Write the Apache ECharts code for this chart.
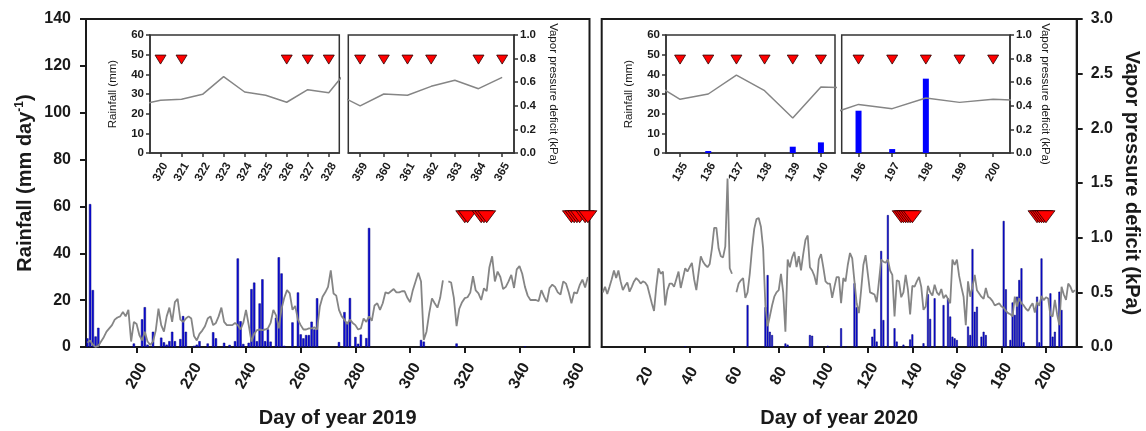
<!DOCTYPE html>
<html><head><meta charset="utf-8">
<script src="https://cdn.jsdelivr.net/npm/echarts@6/dist/echarts.min.js"></script>
<style>html,body{margin:0;padding:0;background:#fff}#c{width:1146px;height:431px}</style>
</head><body><div id="c"></div><script>
// ---------- DATA ----------
const vpd2019Start = 182;
const vpd2019 = [0.04,0.06,0.02,0.0,0.01,0.05,0.09,0.14,0.17,0.2,
 0.25,0.27,0.28,0.32,0.28,0.34,0.05,0.23,0.21,0.11,
 0.06,0.14,0.05,0.02,0.05,0.15,0.35,0.2,0.14,0.28,
 0.36,0.23,0.41,0.44,0.25,0.23,0.26,0.28,0.26,0.1,
 0.06,0.12,0.15,0.19,0.26,0.28,0.2,0.22,0.28,0.36,
 0.23,0.2,0.2,0.2,0.22,0.2,0.16,0.22,0.34,0.2,
 0.05,0.12,0.155,0.16,0.155,0.16,0.17,0.22,0.34,0.29,
 0.17,0.35,0.45,0.52,0.49,0.34,0.375,0.25,0.2,0.16,
 0.16,0.17,0.17,0.18,0.16,0.37,0.46,0.5,0.55,0.7,
 0.49,0.47,0.34,0.28,0.25,0.21,0.25,0.22,0.2,0.16,
 0.17,0.26,0.23,0.28,0.24,0.38,0.4,0.34,0.4,0.5,
 0.49,0.51,0.53,0.5,0.5,0.51,0.51,0.45,0.41,0.52,
 0.6,0.68,0.6,0.065,0.14,0.31,0.445,0.4,0.36,0.45,
 0.61,null,0.6,0.59,0.45,0.19,0.35,0.41,0.447,0.455,
 0.497,0.647,0.517,0.49,0.43,0.537,0.51,0.73,0.83,0.6,
 0.69,0.64,0.53,0.55,0.6,0.66,0.54,0.71,0.74,0.67,
 0.55,0.47,0.43,0.43,0.43,0.42,0.52,0.46,0.41,0.54,
 0.57,0.55,0.5,0.48,0.6,0.58,0.5,0.40,0.50,0.49,
 0.565,0.616,0.545,0.641];

const vpd2020Start = 1;
const vpd2020 = [0.5,0.55,0.485,0.55,0.62,0.7,0.63,0.7,0.6,0.52,
 0.56,0.59,0.506,0.55,0.6,0.63,0.61,0.58,0.6,0.59,
 0.56,0.48,0.4,0.33,0.55,0.72,0.67,0.69,0.38,0.52,
 0.58,0.58,0.55,0.62,0.69,0.54,0.63,0.72,0.69,0.73,
 0.77,0.62,0.52,0.68,0.83,0.78,0.75,0.73,0.76,0.9,
 1.09,1.09,0.9,0.83,0.82,0.92,1.54,0.72,0.67,null,
 0.5,0.58,0.61,0.63,0.45,0.5,0.67,0.9,1.08,1.17,
 1.18,1.1,0.9,0.38,0.19,0.28,0.38,0.46,0.5,0.52,
 0.67,0.5,0.14,0.8,0.73,0.82,0.87,0.73,0.83,0.7,
 0.85,0.98,1.02,0.73,0.7,0.65,0.57,0.8,0.85,0.73,
 0.6,0.58,0.58,0.45,0.55,0.64,0.64,0.4,0.63,0.6,
 0.75,0.86,0.81,0.6,0.4,0.31,0.52,0.75,0.84,0.67,
 0.5,0.49,0.48,0.41,0.6,0.8,0.78,0.77,0.8,0.7,
 0.66,0.28,0.61,0.6,0.455,0.5,0.66,0.528,0.297,0.559,
 0.553,0.6,0.64,0.55,0.34,0.37,0.56,0.5,0.47,0.57,
 0.5,0.475,0.53,0.445,0.475,0.44,0.4,0.8,0.75,0.8,
 0.65,0.55,0.46,0.2,0.6,0.46,0.55,0.66,0.52,0.49,
 0.46,0.44,0.54,0.46,0.445,0.42,0.38,0.39,0.4,0.37,
 0.36,0.33,0.31,0.3,0.28,0.46,0.37,0.445,0.4,0.38,
 0.35,0.33,0.37,0.4,0.316,0.412,0.376,0.466,0.429,0.455,
 0.443,0.29,0.28,0.43,0.3,0.2,0.55,0.48,0.43,0.58,
 0.55,0.5,0.52];

// rainfall [day, mm] (days not listed = 0)
const rain2019 = [[182,3.7],[183,61],[184,24.3],[185,4.5],[186,8.2],[199,1.5],[202,11.8],[203,17],[204,1],
 [206,6.5],[209,4],[210,2],[211,1],[212,2.5],[213,6.5],[214,2.5],[216,3.4],[217,13.2],[218,6.5],
 [221,0.5],[222,1],[223,2.5],[226,1.5],[228,6.3],[229,3.7],[232,1.8],[234,0.9],[236,2.5],[237,37.8],
 [238,11],[239,1.3],[241,1.8],[242,24.7],[243,27.5],[244,2.5],[245,18.6],[246,28.9],[247,2.5],[248,7.5],
 [249,2.3],[251,12.5],[252,38.3],[253,31.4],[254,0.5],[257,10.5],[259,23.3],[260,5.4],[261,3.7],[262,5.1],
 [263,5.1],[264,10.8],[265,7.5],[266,20.8],[274,2.1],[276,14.9],[277,10.7],[278,20.9],[280,4.3],
 [281,1.4],[282,5.3],[284,3.8],[285,50.8],[304,3],[305,2.3],[317,1.5],[342,0.3]];
const rain2020 = [[38,0.3],[66,17.9],[74,17],[75,30.7],[76,6.5],[77,5.1],[83,1.5],[84,1],[94,5.1],[95,4.8],
 [102,0.5],[108,8],[110,0.3],[114,27.2],[115,17],[122,4.4],[123,7.7],[124,2.3],[126,41],[127,11.5],
 [129,56.3],[132,8],[133,2.3],[136,1],[139,3.2],[140,5.4],[145,1.6],[147,22.5],[148,12],[150,20.8],
 [154,17.9],[156,20.8],[157,13],[158,4.4],[159,3.7],[160,3],[165,8.7],[166,5.1],[167,41.8],[168,15],
 [169,17.2],[171,4.4],[172,6.5],[173,5.1],[181,53.8],[182,24.6],[184,3],[185,19],[186,13.7],[187,21.5],
 [188,28.6],[189,33.6],[190,2],[196,21.5],[197,2],[198,37.8],[202,22.9],[203,4.4],[204,6.5],[206,23.6],[207,15.8]];

// sampling days (red triangles)
const sample2019 = [320,321,326,327,328,359,360,361,362,364,365];
const sample2020 = [135,136,137,138,139,140,196,197,198,199,200];

// tick labels
const ticks2019 = [200,220,240,260,280,300,320,340,360];
const ticks2020 = [20,40,60,80,100,120,140,160,180,200];
const ticksIn1 = [320,321,322,323,324,325,326,327,328];
const ticksIn2 = [359,360,361,362,363,364,365];
const ticksIn3 = [135,136,137,138,139,140];
const ticksIn4 = [196,197,198,199,200];

// ---------- CHART ----------
const AX = '#1a1a1a', FR = '#333';
const FONT = '"Liberation Sans", Arial, sans-serif';
const pairs = (s, a) => a.map((v, i) => [s + i, v]);
const line2019 = pairs(vpd2019Start, vpd2019);
const line2020 = pairs(vpd2020Start, vpd2020);
const within = (p, a, b) => p.filter(d => d[0] >= a && d[0] <= b);

const grids = [
  {left:86, top:19, width:503.5, height:328},
  {left:601.7, top:19, width:475, height:328},
  {left:150, top:35, width:189.3, height:118},
  {left:348.3, top:35, width:165.7, height:118},
  {left:666, top:35, width:169, height:118},
  {left:841.7, top:35, width:168.3, height:118}
].map((g, i) => Object.assign(g, {show:true, backgroundColor:'#fff', borderColor: i < 2 ? AX : FR,
  borderWidth: i < 2 ? 2 : 1.5, containLabel:false, outerBoundsMode:'none'}));

function mainX(gi, min, max, ticks, title) {
  return {gridIndex:gi, type:'value', min, max, name:title, nameLocation:'middle', nameGap:61,
    nameTextStyle:{fontFamily:FONT, fontWeight:'bold', fontSize:20, color:AX},
    axisLine:{show:true, onZero:false, lineStyle:{color:AX, width:2}},
    axisTick:{show:true, customValues:ticks, length:6, lineStyle:{color:AX, width:2}},
    axisLabel:{customValues:ticks, rotate:60, margin:29, align:'center', verticalAlign:'middle',
      fontFamily:FONT, fontWeight:'bold', fontSize:16, color:AX},
    splitLine:{show:false}};
}
function insetX(gi, min, max, ticks) {
  return {gridIndex:gi, type:'value', min, max,
    axisLine:{show:true, onZero:false, lineStyle:{color:FR, width:1.5}},
    axisTick:{show:true, customValues:ticks, length:4, lineStyle:{color:FR, width:1.5}},
    axisLabel:{customValues:ticks, rotate:60, margin:19, align:'center', verticalAlign:'middle',
      fontFamily:FONT, fontWeight:'bold', fontSize:11.5, color:AX},
    splitLine:{show:false}};
}
function hiddenY(gi, min, max, pos) {
  return {gridIndex:gi, type:'value', min, max, position:pos, show:false, splitLine:{show:false}};
}
function insetRainY(gi) {
  return {gridIndex:gi, type:'value', min:0, max:60, interval:10, position:'left',
    name:'Rainfall (mm)', nameLocation:'middle', nameGap:31,
    nameTextStyle:{fontFamily:FONT, fontSize:11.5, color:AX},
    axisLine:{show:true, onZero:false, lineStyle:{color:FR, width:1.5}},
    axisTick:{show:true, length:4, lineStyle:{color:FR, width:1.5}},
    axisLabel:{margin:6, fontFamily:FONT, fontWeight:'bold', fontSize:11.5, color:AX},
    splitLine:{show:false}};
}
function insetVpdY(gi, gap) {
  return {gridIndex:gi, type:'value', min:0, max:1, interval:0.2, position:'right',
    name:'Vapor pressure deficit (kPa)', nameLocation:'middle', nameGap:gap, nameRotate:-90,
    nameTextStyle:{fontFamily:FONT, fontSize:11.5, color:AX},
    axisLine:{show:true, onZero:false, lineStyle:{color:FR, width:1.5}},
    axisTick:{show:true, length:4, lineStyle:{color:FR, width:1.5}},
    axisLabel:{margin:6, fontFamily:FONT, fontWeight:'bold', fontSize:11.5, color:AX, formatter:v => v.toFixed(1)},
    splitLine:{show:false}};
}

const xAxis = [
  mainX(0, 181.5, 365.6, ticks2019, 'Day of year 2019'),
  mainX(1, 0.5, 213.8, ticks2020, 'Day of year 2020'),
  insetX(2, 319.5, 328.5, ticksIn1),
  insetX(3, 358.5, 365.5, ticksIn2),
  insetX(4, 134.5, 140.5, ticksIn3),
  insetX(5, 195.5, 200.5, ticksIn4)
];
const yAxis = [
  {gridIndex:0, type:'value', min:0, max:140, interval:20, position:'left',
    name:'Rainfall (mm day{sup|-1})', nameLocation:'middle', nameGap:50,
    nameTextStyle:{fontFamily:FONT, fontWeight:'bold', fontSize:20, color:AX,
      rich:{sup:{fontFamily:FONT, fontWeight:'bold', fontSize:12, color:AX, padding:[0,0,10,0]}}},
    axisLine:{show:true, onZero:false, lineStyle:{color:AX, width:2}},
    axisTick:{show:true, length:6, lineStyle:{color:AX, width:2}},
    axisLabel:{margin:15, fontFamily:FONT, fontWeight:'bold', fontSize:16, color:AX},
    splitLine:{show:false}},
  hiddenY(0, 0, 3, 'right'),
  hiddenY(1, 0, 140, 'left'),
  {gridIndex:1, type:'value', min:0, max:3, interval:0.5, position:'right',
    name:'Vapor pressure deficit (kPa)', nameLocation:'middle', nameGap:45, nameRotate:-90,
    nameTextStyle:{fontFamily:FONT, fontWeight:'bold', fontSize:20, color:AX},
    axisLine:{show:true, onZero:false, lineStyle:{color:AX, width:2}},
    axisTick:{show:true, length:6, lineStyle:{color:AX, width:2}},
    axisLabel:{margin:14, fontFamily:FONT, fontWeight:'bold', fontSize:16, color:AX, formatter:v => v.toFixed(1)},
    splitLine:{show:false}},
  insetRainY(2), hiddenY(2, 0, 1, 'right'),
  hiddenY(3, 0, 60, 'left'), insetVpdY(3, 33),
  insetRainY(4), hiddenY(4, 0, 1, 'right'),
  hiddenY(5, 0, 60, 'left'), insetVpdY(5, 29)
];

const MAIN_MARK_Y = 55.6, INSET_MARK_Y = 47.5;
const barMain = (xi, yi, data, w) => ({type:'bar', xAxisIndex:xi, yAxisIndex:yi, data, barWidth:w, z:2,
  itemStyle:{color:'#0c0ce0', borderColor:'#000070', borderWidth:0.5}});
const barInset = (xi, yi, data) => ({type:'bar', xAxisIndex:xi, yAxisIndex:yi, data, barWidth:6, z:2,
  itemStyle:{color:'#0000ff'}});
const lineS = (xi, yi, data, w) => ({type:'line', xAxisIndex:xi, yAxisIndex:yi, data, showSymbol:false, symbol:'none',
  connectNulls:false, clip:true, z:3, lineStyle:{color:'#858585', width:w}});
const marks = (xi, yi, days, y, size) => ({type:'scatter', xAxisIndex:xi, yAxisIndex:yi, z:4,
  data: days.map(d => [d, y]), symbol:'triangle', symbolRotate:180, symbolSize:size,
  itemStyle:{color:'#ff0000', borderColor:'#2a0000', borderWidth:0.8, opacity:1}});

const series = [
  barMain(0, 0, rain2019, 2.3), lineS(0, 1, line2019, 1.8), marks(0, 0, sample2019, MAIN_MARK_Y, [18, 12]),
  barMain(1, 2, rain2020, 1.9), lineS(1, 3, line2020, 1.8), marks(1, 2, sample2020, MAIN_MARK_Y, [18, 12]),
  barInset(2, 4, within(rain2019, 320, 328)), lineS(2, 5, within(line2019, 319, 329), 1.5), marks(2, 4, sample2019.filter(d => d <= 328), INSET_MARK_Y, [11, 9]),
  barInset(3, 6, within(rain2019, 359, 365)), lineS(3, 7, within(line2019, 358, 365), 1.5), marks(3, 6, sample2019.filter(d => d >= 359), INSET_MARK_Y, [11, 9]),
  barInset(4, 8, within(rain2020, 135, 140)), lineS(4, 9, within(line2020, 134, 141), 1.5), marks(4, 8, sample2020.filter(d => d <= 140), INSET_MARK_Y, [11, 9]),
  barInset(5, 10, within(rain2020, 196, 200)), lineS(5, 11, within(line2020, 195, 201), 1.5), marks(5, 10, sample2020.filter(d => d >= 196), INSET_MARK_Y, [11, 9])
];

const chart = echarts.init(document.getElementById('c'), null, {renderer:'canvas'});
chart.setOption({animation:false, backgroundColor:'#fff', grid:grids, xAxis, yAxis, series});
</script></body></html>
